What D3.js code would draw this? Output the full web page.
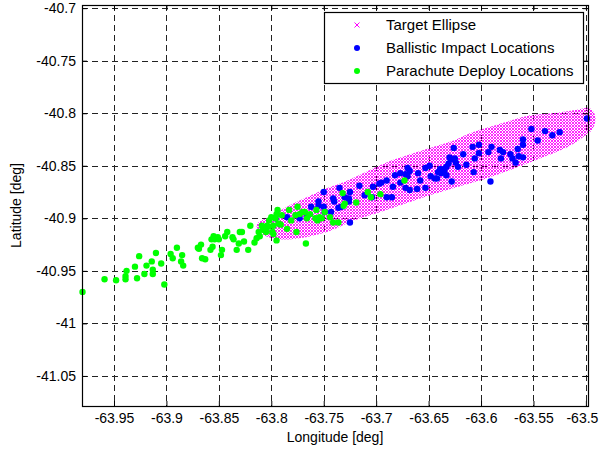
<!DOCTYPE html>
<html>
<head>
<meta charset="utf-8">
<script src="https://cdn.jsdelivr.net/npm/d3@7"></script>
<style>
  body { margin: 0; background: #fff; }
  text { font-family: "Liberation Sans", Arial, Helvetica, sans-serif; }
</style>
</head>
<body>
<script>

// Axis ticks
const xTicks = [-63.95, -63.9, -63.85, -63.8, -63.75, -63.7, -63.65, -63.6, -63.55, -63.5];
const yTicks = [-41.05, -41, -40.95, -40.9, -40.85, -40.8, -40.75, -40.7];

// Outline of the target ellipse, [lon, lat]
const ellipseOutline = [
    [-63.814, -40.906], [-63.801, -40.898], [-63.779, -40.886], [-63.751, -40.873],
    [-63.725, -40.863], [-63.693, -40.848], [-63.661, -40.837], [-63.629, -40.827],
    [-63.608, -40.818], [-63.575, -40.808], [-63.553, -40.802], [-63.531, -40.800],
    [-63.510, -40.797], [-63.497, -40.795], [-63.491, -40.803], [-63.493, -40.814],
    [-63.499, -40.820], [-63.515, -40.831], [-63.531, -40.838], [-63.544, -40.843],
    [-63.575, -40.855], [-63.598, -40.863], [-63.629, -40.872], [-63.661, -40.882],
    [-63.693, -40.893], [-63.715, -40.900], [-63.728, -40.905], [-63.747, -40.913],
    [-63.773, -40.919], [-63.792, -40.920], [-63.807, -40.916]
];

// Ballistic impact locations [lon, lat]
const ballisticPoints = [
    [-63.796, -40.900], [-63.785, -40.899], [-63.773, -40.900], [-63.766, -40.899],
    [-63.762, -40.889], [-63.755, -40.884], [-63.755, -40.888], [-63.750, -40.889],
    [-63.750, -40.875], [-63.749, -40.894], [-63.743, -40.894], [-63.741, -40.881],
    [-63.740, -40.884], [-63.736, -40.890], [-63.735, -40.871], [-63.733, -40.889],
    [-63.730, -40.880], [-63.726, -40.881], [-63.725, -40.875], [-63.726, -40.884],
    [-63.725, -40.904], [-63.716, -40.869], [-63.711, -40.878], [-63.704, -40.880],
    [-63.703, -40.870], [-63.697, -40.867], [-63.695, -40.866], [-63.690, -40.880],
    [-63.685, -40.880], [-63.690, -40.864], [-63.684, -40.870], [-63.682, -40.859],
    [-63.677, -40.857], [-63.677, -40.866], [-63.672, -40.858], [-63.670, -40.852],
    [-63.668, -40.855], [-63.672, -40.871], [-63.668, -40.873], [-63.670, -40.860],
    [-63.660, -40.857], [-63.658, -40.864], [-63.661, -40.872], [-63.653, -40.871],
    [-63.653, -40.852], [-63.649, -40.850], [-63.648, -40.860], [-63.644, -40.862],
    [-63.642, -40.862], [-63.639, -40.853], [-63.635, -40.855], [-63.633, -40.851],
    [-63.631, -40.848], [-63.630, -40.842], [-63.641, -40.856], [-63.638, -40.857],
    [-63.633, -40.859], [-63.628, -40.865], [-63.626, -40.833], [-63.625, -40.843],
    [-63.629, -40.844], [-63.624, -40.847], [-63.622, -40.851], [-63.617, -40.839],
    [-63.614, -40.849], [-63.607, -40.856], [-63.608, -40.832], [-63.606, -40.843],
    [-63.602, -40.830], [-63.602, -40.838], [-63.593, -40.837], [-63.590, -40.832],
    [-63.591, -40.865], [-63.582, -40.835], [-63.581, -40.843], [-63.579, -40.837],
    [-63.572, -40.839], [-63.570, -40.843], [-63.567, -40.847], [-63.565, -40.834],
    [-63.564, -40.841], [-63.560, -40.842], [-63.560, -40.825], [-63.560, -40.830],
    [-63.552, -40.815], [-63.546, -40.826], [-63.539, -40.817], [-63.532, -40.821],
    [-63.525, -40.818], [-63.499, -40.805], [-63.635, -40.853]
];

// Parachute deploy locations [lon, lat]
const chutePoints = [
    [-63.980, -40.970], [-63.959, -40.958], [-63.948, -40.959], [-63.939, -40.955],
    [-63.939, -40.958], [-63.938, -40.950], [-63.930, -40.946], [-63.928, -40.957],
    [-63.926, -40.936], [-63.921, -40.953], [-63.919, -40.945], [-63.914, -40.941],
    [-63.913, -40.949], [-63.913, -40.953], [-63.910, -40.933], [-63.905, -40.943],
    [-63.902, -40.963], [-63.896, -40.934], [-63.894, -40.938], [-63.890, -40.928],
    [-63.886, -40.941], [-63.885, -40.935], [-63.884, -40.945], [-63.870, -40.928],
    [-63.867, -40.925], [-63.869, -40.929], [-63.866, -40.938], [-63.863, -40.939],
    [-63.857, -40.920], [-63.855, -40.917], [-63.854, -40.920], [-63.851, -40.918],
    [-63.850, -40.920], [-63.858, -40.930], [-63.856, -40.927], [-63.847, -40.930],
    [-63.848, -40.935], [-63.844, -40.917], [-63.842, -40.913], [-63.837, -40.918],
    [-63.836, -40.920], [-63.833, -40.930], [-63.831, -40.924], [-63.830, -40.913],
    [-63.828, -40.913], [-63.826, -40.922], [-63.822, -40.930], [-63.820, -40.907],
    [-63.816, -40.923], [-63.814, -40.919], [-63.812, -40.913], [-63.811, -40.917],
    [-63.809, -40.907], [-63.807, -40.911], [-63.805, -40.913], [-63.802, -40.902],
    [-63.803, -40.908], [-63.800, -40.899], [-63.798, -40.907], [-63.798, -40.915],
    [-63.795, -40.921], [-63.796, -40.900], [-63.795, -40.896], [-63.794, -40.892],
    [-63.791, -40.906], [-63.790, -40.897], [-63.785, -40.910], [-63.783, -40.892],
    [-63.776, -40.913], [-63.775, -40.889], [-63.767, -40.924], [-63.768, -40.894],
    [-63.763, -40.896], [-63.758, -40.900], [-63.757, -40.892], [-63.808, -40.910],
    [-63.804, -40.907], [-63.799, -40.913], [-63.793, -40.905], [-63.781, -40.902],
    [-63.777, -40.897], [-63.773, -40.896], [-63.770, -40.894], [-63.766, -40.900],
    [-63.756, -40.902], [-63.754, -40.899], [-63.752, -40.900], [-63.749, -40.894],
    [-63.736, -40.904], [-63.732, -40.876], [-63.730, -40.886], [-63.731, -40.888],
    [-63.719, -40.885], [-63.708, -40.875], [-63.705, -40.880], [-63.696, -40.877],
    [-63.673, -40.864], [-63.744, -40.899], [-63.741, -40.904]
];

const legendLabels = ["Target Ellipse", "Ballistic Impact Locations", "Parachute Deploy Locations"];

const W = 600, H = 450;
const plotLeft = 82, plotRight = 588, plotTop = 5, plotBottom = 406;

const svg = d3.select("body").append("svg")
    .attr("width", W)
    .attr("height", H);

const x = d3.scaleLinear().domain([-63.9805, -63.498]).range([plotLeft, plotRight]);
const y = d3.scaleLinear().domain([-41.0786, -40.697]).range([plotBottom, plotTop]);

// MATLAB style labels: plain hyphen, trailing zeros dropped
const fmt = d => String(+d.toFixed(2));

// Pattern of little magenta crosses for the ellipse
const defs = svg.append("defs");
const pat = defs.append("pattern")
    .attr("id", "crosses")
    .attr("patternUnits", "userSpaceOnUse")
    .attr("width", 3)
    .attr("height", 3);
pat.append("path")
    .attr("d", "M0,0L3,3M3,0L0,3")
    .attr("stroke", "#ff00ff")
    .attr("stroke-width", 0.85);

// grid
const grid = svg.append("g").attr("class", "grid")
    .attr("stroke", "#222")
    .attr("stroke-width", 1)
    .attr("stroke-dasharray", "6,4");

grid.selectAll(".vgrid").data(xTicks).enter()
    .append("line")
    .attr("x1", d => Math.round(x(d)) + 0.5)
    .attr("x2", d => Math.round(x(d)) + 0.5)
    .attr("y1", plotTop)
    .attr("y2", plotBottom);

grid.selectAll(".hgrid").data(yTicks).enter()
    .append("line")
    .attr("y1", d => Math.round(y(d)) + 0.5)
    .attr("y2", d => Math.round(y(d)) + 0.5)
    .attr("x1", plotLeft)
    .attr("x2", plotRight);

// target ellipse
svg.append("path")
    .datum(ellipseOutline)
    .attr("d", d3.line().x(d => x(d[0])).y(d => y(d[1])).curve(d3.curveCardinalClosed))
    .attr("fill", "url(#crosses)");

// ballistic impacts
svg.append("g").selectAll("circle")
    .data(ballisticPoints).enter()
    .append("circle")
    .attr("cx", d => x(d[0]))
    .attr("cy", d => y(d[1]))
    .attr("r", 3.2)
    .attr("fill", "#0000ff");

// parachute deploys
svg.append("g").selectAll("circle")
    .data(chutePoints).enter()
    .append("circle")
    .attr("cx", d => x(d[0]))
    .attr("cy", d => y(d[1]))
    .attr("r", 3.2)
    .attr("fill", "#00ff00");

// axes, ticks pointing inward
const xAxisG = svg.append("g")
    .attr("transform", `translate(0,${plotBottom})`)
    .call(d3.axisBottom(x).tickValues(xTicks).tickFormat(fmt)
        .tickSizeInner(-5).tickSizeOuter(0).tickPadding(7));

// last label sits right at the edge, nudge it in a bit
xAxisG.selectAll(".tick text")
    .filter(d => d === xTicks[xTicks.length - 1])
    .attr("dx", -4);

svg.append("g")
    .attr("transform", `translate(${plotLeft},0)`)
    .call(d3.axisLeft(y).tickValues(yTicks).tickFormat(fmt)
        .tickSizeInner(-5).tickSizeOuter(0).tickPadding(6));

svg.append("g")
    .attr("transform", `translate(0,${plotTop})`)
    .call(d3.axisTop(x).tickValues(xTicks).tickFormat("")
        .tickSizeInner(-5).tickSizeOuter(0));

svg.append("g")
    .attr("transform", `translate(${plotRight},0)`)
    .call(d3.axisRight(y).tickValues(yTicks).tickFormat("")
        .tickSizeInner(-5).tickSizeOuter(0));

svg.selectAll(".domain").remove();
svg.selectAll(".tick line").attr("stroke", "#000");
svg.selectAll(".tick text")
    .attr("fill", "#000")
    .style("font-size", "14px");

// frame
svg.append("rect")
    .attr("x", plotLeft + 0.5)
    .attr("y", plotTop + 0.5)
    .attr("width", plotRight - plotLeft)
    .attr("height", plotBottom - plotTop)
    .attr("fill", "none")
    .attr("stroke", "#000")
    .attr("stroke-width", 1.2);

// axis titles
svg.append("text")
    .attr("x", (plotLeft + plotRight) / 2)
    .attr("y", 442)
    .attr("text-anchor", "middle")
    .style("font-size", "14px")
    .text("Longitude [deg]");

svg.append("text")
    .attr("transform", `translate(21,${(plotTop + plotBottom) / 2}) rotate(-90)`)
    .attr("text-anchor", "middle")
    .style("font-size", "14px")
    .text("Latitude [deg]");

// legend
const legend = svg.append("g").attr("class", "legend");
legend.append("rect")
    .attr("x", 324.5)
    .attr("y", 12.5)
    .attr("width", 259)
    .attr("height", 71)
    .attr("fill", "#fff")
    .attr("stroke", "#000")
    .attr("stroke-width", 1.2);

const rows = legend.selectAll(".row")
    .data(legendLabels).enter()
    .append("g")
    .attr("transform", (d, i) => `translate(357,${25 + i * 23})`);

rows.append("text")
    .attr("x", 29)
    .attr("dy", "0.35em")
    .style("font-size", "15px")
    .text(d => d);

rows.filter((d, i) => i === 0).append("path")
    .attr("d", "M-2.5,-2.5L2.5,2.5M2.5,-2.5L-2.5,2.5")
    .attr("stroke", "#ff00ff")
    .attr("stroke-width", 1);

rows.filter((d, i) => i > 0).append("circle")
    .attr("r", 3)
    .attr("fill", (d, i) => i === 0 ? "#0000ff" : "#00ff00");

</script>
</body>
</html>
